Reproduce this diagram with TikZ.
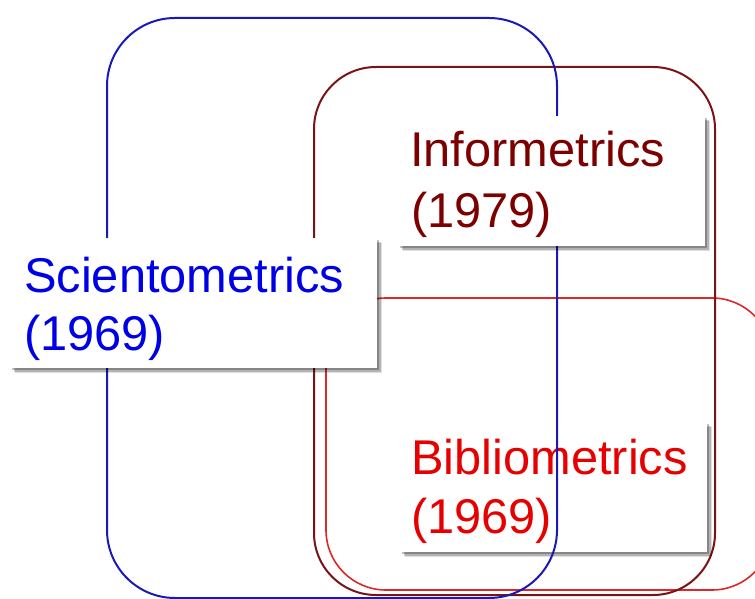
\documentclass[tikz,border=0pt]{standalone}
\usepackage{fontspec}
\setmainfont{Liberation Sans}
\usetikzlibrary{shadows}
\definecolor{bluetext}{RGB}{0,0,230}
\definecolor{blueline}{RGB}{25,25,185}
\definecolor{maroontext}{RGB}{125,0,0}
\definecolor{maroonline}{RGB}{120,20,20}
\definecolor{redtext}{RGB}{230,0,0}
\definecolor{redline}{RGB}{220,40,40}
\tikzset{
  area/.style={line width=2pt, rounded corners=#1},
  labelbox/.style={draw=none, fill=white, inner sep=0pt,
    drop shadow={shadow xshift=5pt, shadow yshift=-5pt, fill=black, opacity=0.12},
    drop shadow={shadow xshift=3.5pt, shadow yshift=-3.5pt, fill=black, opacity=0.2},
    drop shadow={shadow xshift=2pt, shadow yshift=-2pt, fill=black, opacity=0.25}},
  labeltext/.style={font=\fontsize{48.8}{58}\selectfont, inner sep=0pt, anchor=base west},
}
\begin{document}
\begin{tikzpicture}[x=1pt,y=-1pt]
\useasboundingbox (0,0) rectangle (755,599);
\begin{scope}
\clip (0,0) rectangle (755,599);
% Bibliometrics area
\draw[area=60pt, draw=redline, line width=1.6pt] (326,298) rectangle (772,590);
% Informetrics area
\draw[area=62pt, draw=maroonline] (314,67) rectangle (715,595);
% Bibliometrics label
\node[labelbox, minimum width=307pt, minimum height=130pt, anchor=north west] (bibbox) at (400,422) {};
\node[labeltext, text=redtext] (bibA) at (411,474) {Bibliometrics};
\node[labeltext, text=redtext] (bibB) at (411,533) {(1969)};
% Scientometrics area
\draw[area=68pt, draw=blueline] (107,18) rectangle (557,598);
% Scientometrics label
\node[labelbox, minimum width=367pt, minimum height=130pt, anchor=north west] (scibox) at (10,238) {};
\node[labeltext, text=bluetext] (sciA) at (24,292) {Scientometrics};
\node[labeltext, text=bluetext] (sciB) at (24,350) {(1969)};
% Informetrics label
\node[labelbox, minimum width=307pt, minimum height=130pt, anchor=north west] (infbox) at (398,116) {};
\node[labeltext, text=maroontext] (infA) at (410,167) {Informetrics};
\node[labeltext, text=maroontext] (infB) at (411,227) {(1979)};
\end{scope}
\end{tikzpicture}
\end{document}
